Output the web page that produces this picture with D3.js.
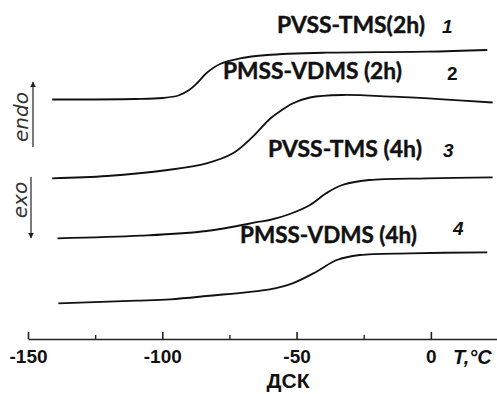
<!DOCTYPE html>
<html>
<head>
<meta charset="utf-8">
<script src="https://cdn.jsdelivr.net/npm/d3@7"></script>
<style>
  body { margin: 0; background: #fff; }
  svg { display: block; }
</style>
</head>
<body>
<div id="chart"></div>
<script>
// DSC traces, temperature in °C, heat flow in arbitrary units (curves shifted for clarity)
const seriesNames = ['PVSS-TMS(2h)', 'PMSS-VDMS (2h)', 'PVSS-TMS (4h)', 'PMSS-VDMS (4h)'];
const seriesNumbers = ['1', '2', '3', '4'];

const temps1 = [-141, -110, -100, -94, -90, -87, -83.5, -78.5, -71, -61, -39, -1.5, 21];
const flow1 = [23.95, 24.0, 24.1, 24.35, 24.9, 25.6, 26.6, 27.5, 28.07, 28.4, 28.63, 28.73, 28.9];

const temps2 = [-141, -120.6, -98, -83.5, -73.7, -66.3, -60, -56, -51.5, -45, -33, -14, 4.5, 23];
const flow2 = [16.07, 16.3, 16.9, 17.57, 18.57, 20.23, 22.0, 22.8, 23.55, 24.15, 24.4, 24.23, 23.97, 23.65];

const temps3 = [-139, -108, -83.5, -63.7, -60, -52.5, -45, -39, -33, -23, -1.5, 23];
const flow3 = [10.07, 10.33, 10.8, 11.73, 11.9, 12.5, 13.4, 14.57, 15.4, 15.9, 16.07, 16.17];

const temps4 = [-138.7, -109.5, -97, -83.5, -60, -51.5, -42.6, -35, -26.5, -7.8, 21];
const flow4 = [3.57, 3.83, 3.97, 4.3, 4.97, 5.57, 6.73, 7.9, 8.4, 8.57, 8.67];

const majorTicks = [-150, -100, -50, 0];
const minorTicks = [-125, -75, -25];
const xTitle = 'ДСК';
const unitLabel = 'T,°C';

const W = 497, H = 394;
const axisY = 339;

const x = d3.scaleLinear().domain([-150, 25]).range([28, 498]);
const y = d3.scaleLinear().domain([0, 30]).range([axisY, 39]);

const svg = d3.select('#chart').append('svg')
  .attr('width', W)
  .attr('height', H);

const series = [
  { t: temps1, f: flow1 },
  { t: temps2, f: flow2 },
  { t: temps3, f: flow3 },
  { t: temps4, f: flow4 }
].map(s => s.t.map((t, i) => ({ t: t, f: s.f[i] })));

const line = d3.line()
  .x(d => x(d.t))
  .y(d => y(d.f))
  .curve(d3.curveCatmullRom.alpha(0.5));

svg.selectAll('.trace')
  .data(series)
  .enter()
  .append('path')
  .attr('class', 'trace')
  .attr('d', line)
  .attr('fill', 'none')
  .attr('stroke', '#111')
  .attr('stroke-width', 1.8);

// labels, placed by hand next to each trace
const labelLayout = [
  { x: 277, y: 33, len: 148, nx: 442, ny: 33, italic: true },
  { x: 223, y: 79, len: 179, nx: 447, ny: 80, italic: false },
  { x: 268, y: 157, len: 154, nx: 443, ny: 157, italic: true },
  { x: 240, y: 243, len: 177, nx: 453, ny: 235, italic: true }
];

svg.selectAll('.name')
  .data(seriesNames)
  .enter()
  .append('text')
  .attr('class', 'name')
  .attr('x', (d, i) => labelLayout[i].x)
  .attr('y', (d, i) => labelLayout[i].y)
  .attr('textLength', (d, i) => labelLayout[i].len)
  .attr('lengthAdjust', 'spacingAndGlyphs')
  .attr('font-family', 'Lato, "Open Sans", sans-serif')
  .attr('font-weight', 'bold')
  .attr('font-size', 22)
  .attr('fill', '#111')
  .attr('stroke', '#111')
  .attr('stroke-width', 0.4)
  .text(d => d);

svg.selectAll('.num')
  .data(seriesNumbers)
  .enter()
  .append('text')
  .attr('class', 'num')
  .attr('x', (d, i) => labelLayout[i].nx)
  .attr('y', (d, i) => labelLayout[i].ny)
  .attr('font-family', '"Liberation Sans", Arial, sans-serif')
  .attr('font-weight', 'bold')
  .attr('font-style', (d, i) => labelLayout[i].italic ? 'italic' : 'normal')
  .attr('font-size', 19)
  .attr('fill', '#111')
  .text(d => d);

// x axis
const axis = svg.append('g')
  .attr('transform', `translate(0,${axisY})`)
  .call(d3.axisBottom(x)
    .tickValues(majorTicks)
    .tickSizeInner(-7)
    .tickSizeOuter(0)
    .tickPadding(11)
    .tickFormat(d3.format('d')));

axis.select('.domain').attr('stroke', '#222').attr('stroke-width', 1.6);
axis.selectAll('.tick line').attr('stroke', '#222').attr('stroke-width', 1.6);
axis.selectAll('.tick text')
  .attr('font-family', '"Liberation Sans", Arial, sans-serif')
  .attr('font-weight', 'bold')
  .attr('font-size', 19)
  .attr('fill', '#111')
  .text(d => d < 0 ? '-' + Math.abs(d) : d);

const minor = svg.append('g')
  .attr('transform', `translate(0,${axisY})`)
  .call(d3.axisBottom(x)
    .tickValues(minorTicks)
    .tickSizeInner(-4)
    .tickSizeOuter(0)
    .tickFormat(''));
minor.select('.domain').remove();
minor.selectAll('.tick line').attr('stroke', '#222').attr('stroke-width', 1.4);

svg.append('text')
  .attr('x', 288)
  .attr('y', 388)
  .attr('text-anchor', 'middle')
  .attr('font-family', '"Liberation Sans", Arial, sans-serif')
  .attr('font-weight', 'bold')
  .attr('font-size', 21)
  .attr('fill', '#111')
  .text(xTitle);

svg.append('text')
  .attr('x', 453)
  .attr('y', 364)
  .attr('font-family', '"Liberation Sans", Arial, sans-serif')
  .attr('font-weight', 'bold')
  .attr('font-style', 'italic')
  .attr('font-size', 20)
  .attr('fill', '#111')
  .text(unitLabel);

// endo / exo arrows
const defs = svg.append('defs');
defs.append('marker')
  .attr('id', 'head')
  .attr('viewBox', '0 0 10 10')
  .attr('refX', 9)
  .attr('refY', 5)
  .attr('markerWidth', 6)
  .attr('markerHeight', 7)
  .attr('markerUnits', 'userSpaceOnUse')
  .attr('orient', 'auto')
  .append('path')
  .attr('d', 'M0,0L10,5L0,10Z')
  .attr('fill', '#222');

svg.append('line')
  .attr('x1', 33).attr('y1', 147)
  .attr('x2', 33).attr('y2', 82)
  .attr('stroke', '#222')
  .attr('stroke-width', 1.2)
  .attr('marker-end', 'url(#head)');

svg.append('line')
  .attr('x1', 31).attr('y1', 177)
  .attr('x2', 31).attr('y2', 238)
  .attr('stroke', '#222')
  .attr('stroke-width', 1.2)
  .attr('marker-end', 'url(#head)');

svg.append('text')
  .attr('transform', 'translate(28,117) rotate(-90)')
  .attr('text-anchor', 'middle')
  .attr('font-family', '"DejaVu Sans", sans-serif')
  .attr('font-style', 'italic')
  .attr('font-size', 20)
  .attr('fill', '#333')
  .text('endo');

svg.append('text')
  .attr('transform', 'translate(27,200) rotate(-90)')
  .attr('text-anchor', 'middle')
  .attr('font-family', '"DejaVu Sans", sans-serif')
  .attr('font-style', 'italic')
  .attr('font-size', 20)
  .attr('fill', '#333')
  .text('exo');
</script>
</body>
</html>
